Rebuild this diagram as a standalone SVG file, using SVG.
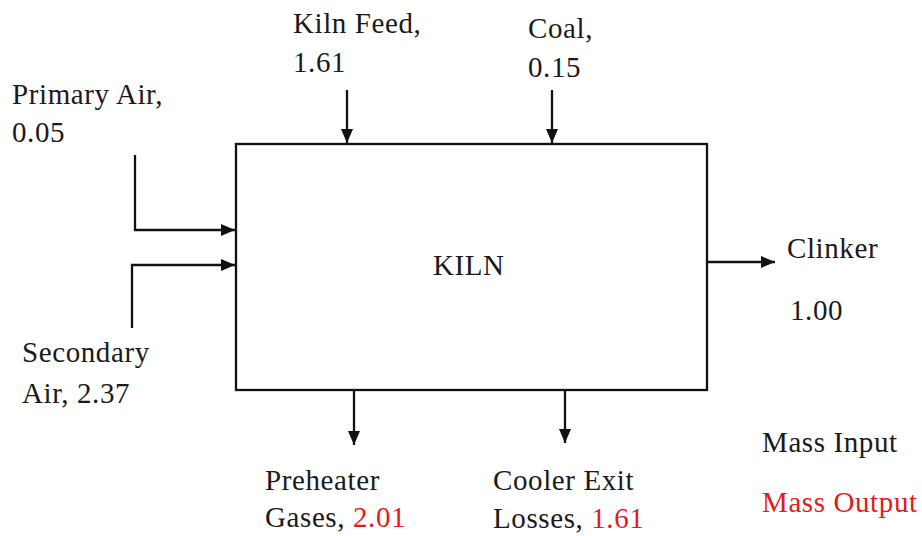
<svg xmlns="http://www.w3.org/2000/svg" width="922" height="536" viewBox="0 0 922 536">
<style>
text{font-family:"Liberation Serif","DejaVu Serif",serif;font-size:29px;letter-spacing:0.6px;fill:#1a1a1a}
.red{fill:#e01b1b}
.ln{fill:none;stroke:#111;stroke-width:2.3}
</style>
<defs>
<marker id="ah" markerWidth="14" markerHeight="12" refX="14" refY="6" orient="auto" markerUnits="userSpaceOnUse">
<path d="M0,0 L14,6 L0,12 Z" fill="#111"/>
</marker>
</defs>
<rect width="922" height="536" fill="#fff"/>
<g id="kiln">
<rect x="236" y="144" width="471" height="246" class="ln"/>
<text x="433" y="275">KILN</text>
</g>
<g id="connectors">
<path class="ln" d="M347,90 V143" marker-end="url(#ah)"/>
<path class="ln" d="M552,90 V143" marker-end="url(#ah)"/>
<path class="ln" d="M135,155 V230 H235" marker-end="url(#ah)"/>
<path class="ln" d="M132,328 V265 H235" marker-end="url(#ah)"/>
<path class="ln" d="M707,262 H775" marker-end="url(#ah)"/>
<path class="ln" d="M354,390 V445" marker-end="url(#ah)"/>
<path class="ln" d="M565,390 V443" marker-end="url(#ah)"/>
</g>
<g id="kiln-feed"><text x="293" y="33">Kiln Feed,</text><text x="293" y="72">1.61</text></g>
<g id="coal"><text x="528" y="38">Coal,</text><text x="528" y="77">0.15</text></g>
<g id="primary-air"><text x="12" y="104">Primary Air,</text><text x="12" y="142">0.05</text></g>
<g id="secondary-air"><text x="22" y="362">Secondary</text><text x="22" y="403">Air, 2.37</text></g>
<g id="clinker"><text x="787" y="258">Clinker</text><text x="790" y="320">1.00</text></g>
<g id="preheater"><text x="265" y="490">Preheater</text><text x="265" y="527">Gases, <tspan class="red">2.01</tspan></text></g>
<g id="cooler"><text x="493" y="490">Cooler Exit</text><text x="493" y="528">Losses, <tspan class="red">1.61</tspan></text></g>
<g id="legend"><text x="762" y="452">Mass Input</text><text x="762" y="512" class="red">Mass Output</text></g>
</svg>
